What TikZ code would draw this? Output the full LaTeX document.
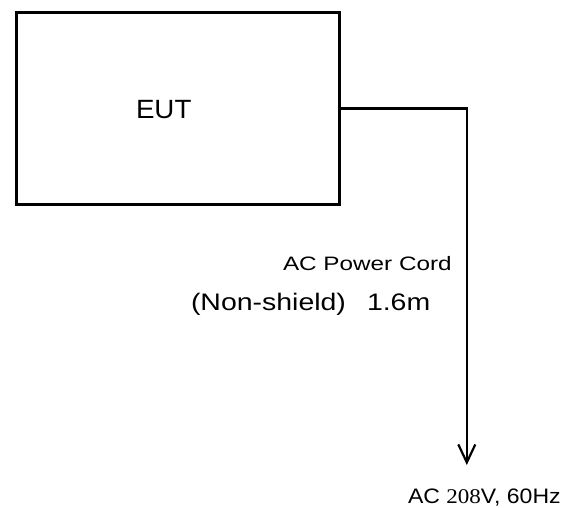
\documentclass[tikz,border=0pt]{standalone}
\usepackage{fontspec}
\setmainfont{Liberation Sans}
\newfontfamily\serifnum{Liberation Serif}
\usetikzlibrary{arrows.meta}
\begin{document}
\begin{tikzpicture}[x=1bp,y=-1bp,
  frame/.style={draw=black, line width=3bp},
  wire/.style={draw=black, line width=2.6bp},
  lbl/.style={inner sep=0pt, outer sep=0pt, anchor=base west}]
\useasboundingbox (0,0) rectangle (571,508);
\node[frame, inner sep=0pt, minimum width=322.7bp, minimum height=192bp, anchor=north west] (box) at (15,11.3) {};
\node[lbl, xscale=1.05, font=\fontsize{26.5}{30}\selectfont] (eut) at (136,119) {EUT};
\coordinate (tip) at (466.8,465);
\draw[wire, -{Straight Barb[length=18bp,width=17bp,line width=2.2bp]}] (box.east) -| (tip);
\node[lbl, xscale=1.25, font=\fontsize{19.5}{22}\selectfont] (cord) at (283,270) {AC Power Cord};
\node[lbl, xscale=1.19, font=\fontsize{24}{28}\selectfont] (shield) at (191,310) {(Non-shield)};
\node[lbl, xscale=1.19, font=\fontsize{24}{28}\selectfont] (len) at (367,310) {1.6m};
\node[lbl, xscale=1.1, font=\fontsize{21}{24}\selectfont] (supply) at (408,503) {AC {\serifnum 208}V, 60Hz};
\end{tikzpicture}
\end{document}
